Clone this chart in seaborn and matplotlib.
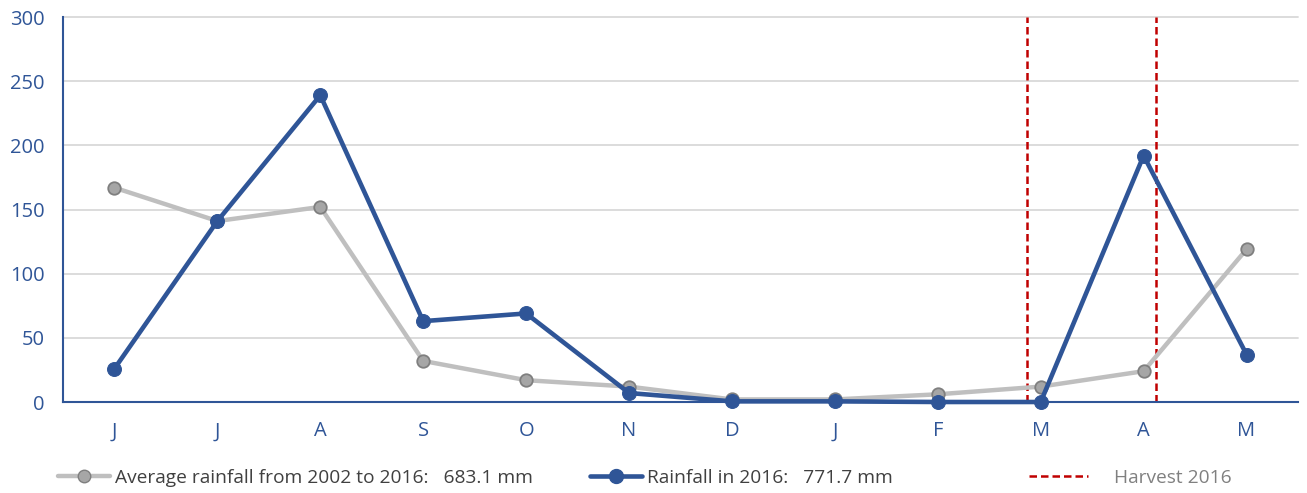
import numpy as np
import pandas as pd
import matplotlib
matplotlib.use("Agg")
import matplotlib.pyplot as plt
from matplotlib.lines import Line2D
import seaborn as sns

months = ["J", "J", "A", "S", "O", "N", "D", "J", "F", "M", "A", "M"]
avg_rain = [167, 141, 152, 32, 17, 12, 2, 2, 6, 12, 24, 119]
rain_2016 = [26, 141, 239, 63, 69, 7, 0.5, 0.5, 0, 0, 192, 37]
harvest_x = [8.87, 10.12]
avg_label = "Average rainfall from 2002 to 2016:   683.1 mm"
rain_label = "Rainfall in 2016:   771.7 mm"
harvest_label = "Harvest 2016"
y_ticks = [0, 50, 100, 150, 200, 250, 300]

sns.set_style("white")
plt.rcParams['font.family'] = ['Open Sans', 'DejaVu Sans']

BLUE = "#2F5597"
GRAY_LINE = "#BFBFBF"
RED = "#C00000"

df = pd.DataFrame({"idx": np.arange(len(months)), "avg": avg_rain, "r2016": rain_2016})

fig = plt.figure(figsize=(13.07, 4.93), dpi=100)
ax = fig.add_axes([63/1307, 1-402/493, (1298-63)/1307, (402-17)/493])

for y in y_ticks[1:]:
    ax.axhline(y, color="#D9D9D9", lw=1.3, zorder=0)

sns.lineplot(data=df, x="idx", y="avg", ax=ax, color=GRAY_LINE, lw=3.2,
             marker="o", markersize=9, markerfacecolor="#A6A6A6",
             markeredgecolor="#7F7F7F", markeredgewidth=1.3, zorder=3)
sns.lineplot(data=df, x="idx", y="r2016", ax=ax, color=BLUE, lw=3.3,
             marker="o", markersize=10, markerfacecolor=BLUE,
             markeredgecolor=BLUE, zorder=4)
for ln in ax.lines:
    ln.set_clip_on(False)
for hx in harvest_x:
    ax.axvline(hx, color=RED, lw=1.8, ls=(0, (3, 1.6)), zorder=2)

ax.set_xlim(-0.5, len(months) - 0.5)
ax.set_ylim(0, 300)
ax.set_xlabel("")
ax.set_ylabel("")

ax.set_xticks(np.arange(-0.5, len(months), 1.0))
ax.set_xticklabels([])
ax.set_xticks(np.arange(len(months)), minor=True)
ax.set_xticklabels(months, minor=True)
ax.tick_params(axis="x", which="major", length=7, width=1.3, color=BLUE, direction="out")
ax.tick_params(axis="x", which="minor", length=0, pad=14, labelsize=14.5, labelcolor=BLUE)
ax.set_yticks(y_ticks)
ax.tick_params(axis="y", length=0, pad=13, labelsize=14.5, labelcolor=BLUE)

for s in ["top", "right"]:
    ax.spines[s].set_visible(False)
for s in ["left", "bottom"]:
    ax.spines[s].set_color(BLUE)
    ax.spines[s].set_linewidth(1.5)
    ax.spines[s].set_zorder(2.5)

h1 = Line2D([], [], color=GRAY_LINE, lw=3.2, marker="o", markersize=9,
            markerfacecolor="#A6A6A6", markeredgecolor="#7F7F7F")
h2 = Line2D([], [], color=BLUE, lw=3.3, marker="o", markersize=10,
            markerfacecolor=BLUE, markeredgecolor=BLUE)
h3 = Line2D([], [], color=RED, lw=1.8, ls=(0, (3, 1.6)))

common = dict(frameon=False, loc="center left", fontsize=13.8, handlelength=2.7,
              handletextpad=0.25, borderaxespad=0, borderpad=0)
ly = 1 - 478/493
fig.legend([h1], [avg_label], bbox_to_anchor=(58/1307, ly), labelcolor="#404040", **common)
fig.legend([h2], [rain_label], bbox_to_anchor=(590/1307, ly), labelcolor="#404040", **common)
common3 = dict(common)
common3["handletextpad"] = 1.35
common3["handlelength"] = 3.1
fig.legend([h3], [harvest_label], bbox_to_anchor=(1029/1307, ly), labelcolor="#808080", **common3)

fig.savefig("out.png", dpi=100)
